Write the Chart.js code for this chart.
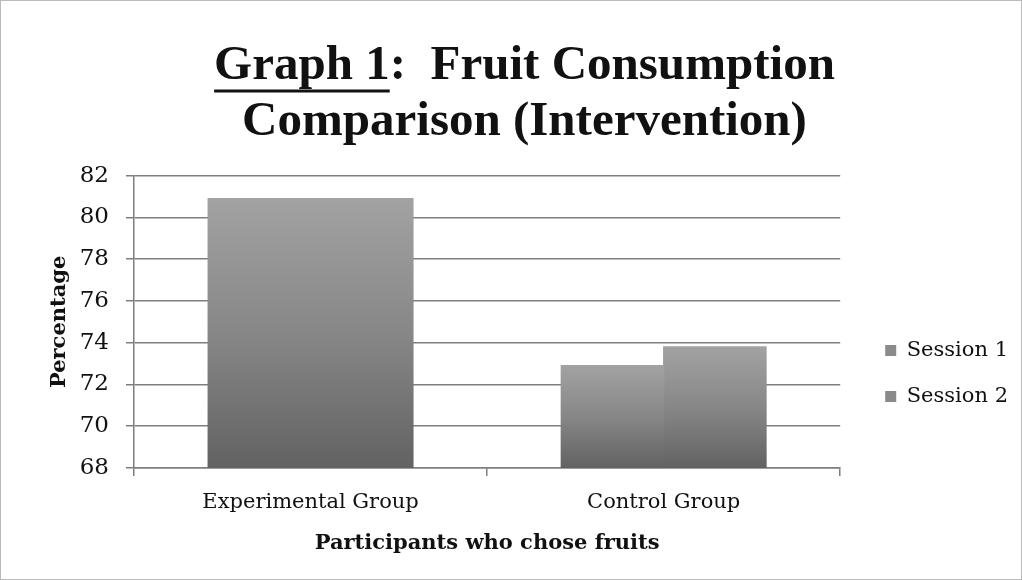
<!DOCTYPE html>
<html>
<head>
<meta charset="utf-8">
<script src="https://cdn.jsdelivr.net/npm/chart.js@4/dist/chart.umd.min.js"></script>
<style>
  html, body { margin: 0; padding: 0; background: #fff; }
  #wrap { width: 1020px; height: 578px; border: 1px solid #bbb; position: relative; }
  canvas { display: block; }
</style>
</head>
<body>
<div id="wrap"><canvas id="chart" width="1020" height="578"></canvas></div>
<script>
// ── Fruit consumption chart ──
const categories = ['Experimental Group', 'Control Group'];
const session1 = [80.9, 72.9];
const session2 = [80.9, 73.8];
const yTicks = [68, 70, 72, 74, 76, 78, 80, 82];

const TITLE_FONT = '"Liberation Serif", serif';
const SERIF = '"DejaVu Serif", "Liberation Serif", serif';
const GRID = '#7e7e7e';

// vertical grey gradient per bar, lighter on top
function barFill(ctx) {
  const chart = ctx.chart;
  const area = chart.chartArea;
  if (!area || ctx.dataIndex === undefined) return '#888';
  const v = ctx.dataset.data[ctx.dataIndex];
  const top = chart.scales.y.getPixelForValue(v);
  const g = chart.ctx.createLinearGradient(0, top, 0, area.bottom);
  g.addColorStop(0, '#a2a2a2');
  g.addColorStop(0.5, '#878787');
  g.addColorStop(1, '#626262');
  return g;
}

// underline the "Graph 1" part of the title
const underlineTitle = {
  id: 'underlineTitle',
  afterDraw(chart) {
    const t = chart.titleBlock;
    if (!t || !t.options.display) return;
    const c = chart.ctx;
    const f = t.options.font;
    c.save();
    c.font = `${f.weight} ${f.size}px ${f.family}`;
    const line = chart.options.plugins.title.text[0];
    const full = c.measureText(line).width;
    const part = c.measureText('Graph 1').width;
    const cx = (t.left + t.right) / 2;
    const x0 = cx - full / 2;
    const y = t.top + t.options.padding.top + f.size + 4;
    c.strokeStyle = '#111';
    c.lineWidth = 3;
    c.beginPath();
    c.moveTo(x0, y);
    c.lineTo(x0 + part, y);
    c.stroke();
    c.restore();
  }
};

new Chart(document.getElementById('chart'), {
  type: 'bar',
  data: {
    labels: categories,
    datasets: [
      { label: 'Session 1', data: session1, backgroundColor: barFill, borderWidth: 0, inflateAmount: 0.6 },
      { label: 'Session 2', data: session2, backgroundColor: barFill, borderWidth: 0, inflateAmount: 0.6 }
    ]
  },
  options: {
    responsive: false,
    animation: false,
    layout: { padding: { left: 30, right: 3, top: 0, bottom: 23 } },
    datasets: { bar: { barPercentage: 1, categoryPercentage: 0.58 } },
    plugins: {
      title: {
        display: true,
        text: ['Graph 1:  Fruit Consumption', 'Comparison (Intervention)'],
        color: '#111',
        font: { family: TITLE_FONT, size: 49, weight: 'bold', lineHeight: 1.15 },
        padding: { top: 37, bottom: 25 }
      },
      legend: {
        position: 'right',
        title: { display: true, text: ' ', padding: 89, font: { size: 10 } },
        labels: {
          boxWidth: 11, boxHeight: 11, padding: 25,
          color: '#111',
          font: { family: SERIF, size: 21 },
          generateLabels(chart) {
            return chart.data.datasets.map((ds, i) => ({
              text: ds.label, fillStyle: '#8a8a8a', strokeStyle: '#8a8a8a',
              fontColor: '#111', lineWidth: 0, datasetIndex: i
            }));
          }
        }
      },
      tooltip: { enabled: false }
    },
    scales: {
      x: {
        afterFit(axis) { axis.height = 88; },
        grid: { display: true, drawOnChartArea: false, color: GRID, lineWidth: 1.5, tickLength: 8, offset: true },
        border: { color: GRID, width: 1.5 },
        ticks: { color: '#111', font: { family: SERIF, size: 21 }, padding: 14 },
        title: {
          display: true, text: 'Participants who chose fruits', color: '#111',
          font: { family: SERIF, size: 21, weight: 'bold' }, padding: 0
        }
      },
      y: {
        min: 68, max: 82,
        afterFit(axis) { axis.width = 103; },
        afterBuildTicks(axis) { axis.ticks = yTicks.map(v => ({ value: v })); },
        grid: { color: GRID, lineWidth: 1.5, tickLength: 8 },
        border: { color: GRID, width: 1.5 },
        ticks: { color: '#111', font: { family: SERIF, size: 23 }, padding: 17 },
        title: {
          display: true, text: 'Percentage', color: '#111',
          font: { family: SERIF, size: 21, weight: 'bold' }, padding: { top: 16, bottom: 0 }
        }
      },
      // empty axis that only keeps a gap between the plot and the legend
      gap: {
        position: 'right', axis: 'y',
        afterFit(axis) { axis.width = 20; },
        grid: { display: false }, border: { display: false }, ticks: { display: false }
      }
    }
  },
  plugins: [underlineTitle]
});
</script>
</body>
</html>
